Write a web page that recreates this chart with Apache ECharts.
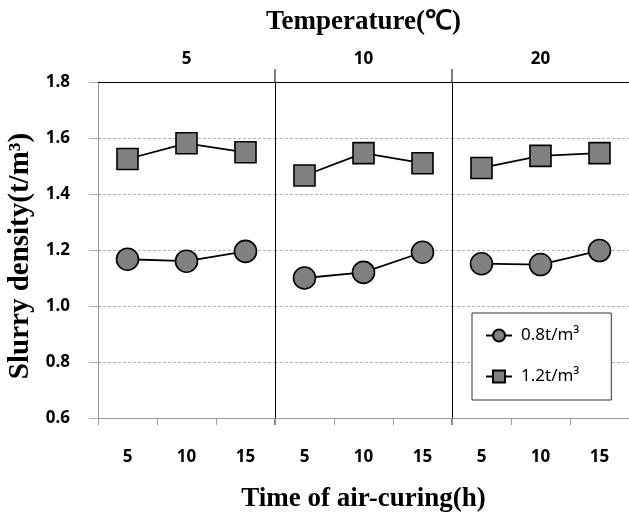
<!DOCTYPE html>
<html><head><meta charset="utf-8">
<script src="https://cdn.jsdelivr.net/npm/echarts@6/dist/echarts.min.js"></script>
<style>html,body{margin:0;padding:0;background:#fff}#c{width:629px;height:514px}</style>
</head><body><div id="c"></div>
<script>
var temps = ['5', '10', '20'];
var times = ['5', '10', '15'];
var yTicks = [0.6, 0.8, 1.0, 1.2, 1.4, 1.6, 1.8];
var seriesNames = ['0.8t/m³', '1.2t/m³'];
var d08_t5 = [1.167, 1.160, 1.195];
var d08_t10 = [1.100, 1.120, 1.192];
var d08_t20 = [1.151, 1.148, 1.198];
var d12_t5 = [1.525, 1.581, 1.549];
var d12_t10 = [1.466, 1.546, 1.510];
var d12_t20 = [1.493, 1.536, 1.546];
var d08 = [d08_t5, d08_t10, d08_t20];
var d12 = [d12_t5, d12_t10, d12_t20];

var chart = echarts.init(document.getElementById('c'), null, {renderer: 'canvas'});
var GL = [98, 275, 452], GW = 177, GT = 82, GH = 336;
var tickFont = {fontFamily: 'Noto Sans', fontWeight: 'bold', fontSize: 17, color: '#000'};
var titleFont = {fontFamily: 'Liberation Serif', fontWeight: 'bold', fontSize: 27, color: '#000'};

var grids = [], xAxes = [], yAxes = [], series = [];
for (var i = 0; i < 3; i++) {
  grids.push({left: GL[i], top: GT, width: GW, height: GH, containLabel: false, outerBoundsMode: 'none'});
  xAxes.push({
    type: 'category', gridIndex: i, data: times, position: 'bottom', boundaryGap: true,
    axisLine: {show: true, lineStyle: {color: '#9a9a9a', width: 1}},
    axisTick: {show: true, length: 7, lineStyle: {color: '#9a9a9a'}},
    axisLabel: Object.assign({margin: 31}, tickFont),
    name: i === 1 ? 'Time of air-curing(h)' : '', nameLocation: 'middle', nameGap: 68,
    nameTextStyle: titleFont
  });
  xAxes.push({
    type: 'category', gridIndex: i, data: [temps[i]], position: 'top',
    axisLine: {show: true, lineStyle: {color: '#000', width: 1}},
    axisTick: {show: false},
    axisLabel: Object.assign({margin: 14}, tickFont),
    name: i === 1 ? 'Temperature(℃)' : '', nameLocation: 'middle', nameGap: 46,
    nameTextStyle: titleFont
  });
  yAxes.push({
    type: 'value', gridIndex: i, min: 0.6, max: 1.8, interval: 0.2,
    axisLine: {show: true, lineStyle: {color: i === 0 ? '#9a9a9a' : '#000', width: 1}},
    axisTick: {show: i === 0, length: 9, lineStyle: {color: '#b0b0b0'}},
    axisLabel: Object.assign({show: i === 0, margin: 28, formatter: function (v) { return v.toFixed(1); }}, tickFont),
    splitLine: {show: true, lineStyle: {color: '#b5b5b5', type: [3, 2], width: 1}},
    name: i === 0 ? 'Slurry density(t/m³)' : '', nameLocation: 'middle', nameGap: 63,
    nameTextStyle: Object.assign({padding: [0, 12, 0, 0]}, titleFont, {fontSize: 29})
  });
  series.push({
    name: seriesNames[0], type: 'line', xAxisIndex: 2 * i, yAxisIndex: i, data: d08[i],
    symbol: 'circle', symbolSize: 22,
    lineStyle: {color: '#000', width: 1.8},
    itemStyle: {color: '#808080', borderColor: '#000', borderWidth: 1.6},
    emphasis: {disabled: true}, z: 3
  });
  series.push({
    name: seriesNames[1], type: 'line', xAxisIndex: 2 * i, yAxisIndex: i, data: d12[i],
    symbol: 'rect', symbolSize: 21,
    lineStyle: {color: '#000', width: 1.8},
    itemStyle: {color: '#808080', borderColor: '#000', borderWidth: 1.6},
    emphasis: {disabled: true}, z: 3
  });
}

var graphics = [];
[GL[1], GL[2]].forEach(function (x) {
  graphics.push({type: 'line', shape: {x1: x, y1: GT - 13, x2: x, y2: GT}, style: {stroke: '#000', lineWidth: 1}, silent: true});
  graphics.push({type: 'line', shape: {x1: x, y1: GT + GH, x2: x, y2: GT + GH + 7}, style: {stroke: '#000', lineWidth: 1}, silent: true});
});

chart.setOption({
  animation: false,
  backgroundColor: '#fff',
  grid: grids,
  xAxis: xAxes,
  yAxis: yAxes,
  legend: {
    data: seriesNames, orient: 'vertical', left: 472, top: 313,
    padding: [14, 32, 15, 13], itemGap: 24, itemWidth: 26, itemHeight: 15,
    borderColor: '#333', borderWidth: 1, backgroundColor: '#fff',
    textStyle: {fontFamily: 'Noto Sans', fontSize: 17, color: '#000', padding: [0, 0, 0, 4]}
  },
  graphic: graphics,
  series: series
});
</script></body></html>
